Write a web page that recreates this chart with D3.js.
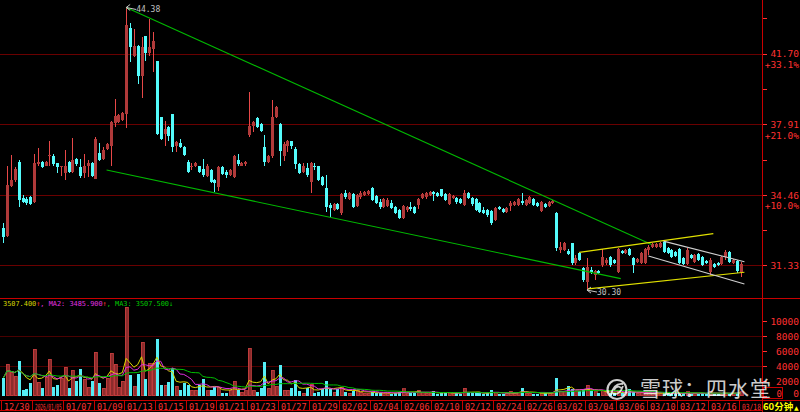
<!DOCTYPE html>
<html><head><meta charset="utf-8">
<script src="https://cdn.jsdelivr.net/npm/d3@7"></script>
<style>body{margin:0;background:#000;overflow:hidden}svg{display:block}</style>
</head><body><svg id="c" width="800" height="412"></svg>
<script>
// ---------- DATA (60-minute bars) ----------
const opens = [32.95,32.59,34.89,35.17,36.04,34.32,34.28,34.37,34.14,35.90,36.04,35.85,36.29,36.29,35.99,35.76,35.51,36.04,35.56,36.19,35.76,35.51,35.81,35.99,35.22,36.44,36.19,36.64,36.79,37.96,38.01,38.12,38.43,43.14,41.59,42.15,40.47,42.68,41.76,41.98,41.31,38.27,37.40,37.75,38.43,36.79,36.94,36.74,36.04,35.76,35.81,35.81,35.66,35.36,35.61,35.17,34.84,35.76,35.56,35.41,35.31,36.14,35.85,35.90,37.35,37.81,38.22,37.91,36.74,36.04,36.29,38.27,37.91,36.29,36.79,37.04,36.64,35.90,35.56,35.71,35.08,35.85,35.81,35.31,34.79,34.00,33.77,34.05,33.63,34.56,34.28,34.51,33.95,34.37,34.46,34.51,34.79,34.41,34.14,33.91,33.95,34.09,33.91,33.77,33.40,33.77,33.91,33.91,34.00,34.32,34.37,34.46,34.60,34.56,34.75,34.51,34.05,34.32,34.32,34.28,34.00,34.56,34.32,34.28,34.09,33.77,33.77,33.72,33.31,33.91,33.82,33.68,33.95,34.00,34.00,34.19,34.00,34.09,34.28,34.09,33.72,34.05,33.95,34.09,33.63,31.98,31.98,31.94,32.28,31.41,31.85,31.20,30.62,31.12,30.91,31.08,31.33,31.41,31.67,31.54,31.04,31.94,31.85,32.02,31.63,31.46,31.41,31.41,31.98,32.10,32.12,32.10,32.32,32.06,31.98,31.89,32.02,31.63,31.37,31.76,31.46,31.81,31.67,31.50,31.04,31.37,31.41,31.37,31.67,31.89,31.41,31.50,31.04];
const highs = [33.17,35.85,36.34,35.76,36.14,34.46,34.37,34.41,36.39,36.69,36.09,36.09,37.04,36.39,35.99,35.81,36.59,36.09,37.19,36.24,36.19,36.39,36.14,36.04,37.24,36.94,36.74,36.94,38.07,39.22,38.43,38.53,44.38,43.44,43.08,42.21,42.62,42.68,43.68,42.91,41.31,38.27,38.07,37.81,38.43,37.04,37.14,36.79,36.14,35.95,36.04,35.85,36.19,35.90,35.66,35.22,35.81,35.81,35.61,35.66,36.34,36.39,36.04,36.09,39.60,38.07,38.27,37.96,37.35,36.34,39.17,38.85,37.96,36.99,37.09,37.04,36.74,35.99,35.99,35.95,36.04,35.95,35.85,35.36,35.41,34.09,34.09,34.09,34.56,34.70,34.60,34.56,34.51,34.65,34.65,34.70,34.84,34.46,34.28,34.32,34.32,34.23,33.95,33.82,34.00,33.95,34.14,33.95,34.32,34.56,34.60,34.65,34.65,34.60,34.75,34.56,34.56,34.46,34.37,34.32,34.70,34.60,34.37,34.32,34.14,33.91,33.82,33.77,33.91,33.95,33.86,33.91,34.19,34.19,34.32,34.56,34.28,34.41,34.32,34.14,34.19,34.09,34.19,34.23,33.68,32.32,32.32,32.02,32.28,31.76,31.89,31.25,31.63,31.25,31.12,31.12,32.02,31.63,31.72,31.58,32.06,31.98,32.02,32.06,31.67,31.63,31.89,32.06,32.19,32.28,32.30,32.32,32.37,32.10,32.02,31.94,32.06,31.67,32.06,31.81,31.81,31.85,31.72,31.54,31.63,31.41,31.46,31.72,31.98,31.94,31.58,31.54,31.46];
const lows = [32.28,32.55,34.84,35.08,33.91,34.09,34.00,34.00,34.09,35.85,35.71,35.81,35.85,35.81,35.51,35.36,35.17,35.51,35.51,35.85,35.27,35.27,35.31,35.31,35.22,36.09,36.14,36.59,35.81,37.75,37.96,38.07,37.70,41.25,41.53,40.03,39.27,41.31,41.59,40.69,37.35,37.09,36.79,37.04,36.49,36.49,36.69,36.29,35.51,35.61,35.76,35.51,35.31,35.31,35.03,34.60,34.65,35.41,35.27,35.36,35.27,35.85,35.81,35.85,37.24,37.50,37.70,37.50,35.81,35.99,36.24,38.22,35.81,36.09,36.49,36.64,35.66,35.46,35.51,35.31,34.56,35.61,35.13,34.89,33.68,33.45,33.72,33.77,33.54,34.28,34.23,33.86,33.91,34.28,34.41,34.46,34.19,34.05,33.82,33.86,33.91,33.82,33.59,33.36,33.36,33.68,33.72,33.59,33.82,34.28,34.28,34.41,34.19,34.37,34.37,34.19,34.00,34.28,34.05,34.05,33.95,34.28,33.95,33.72,33.63,33.59,33.45,33.08,33.26,33.77,33.63,33.63,33.72,33.95,33.95,34.00,33.95,34.05,33.95,33.91,33.68,33.86,33.91,34.05,31.94,31.85,31.94,31.76,31.33,31.33,31.50,30.62,30.30,30.95,30.70,30.98,31.25,31.33,31.25,31.37,31.00,31.81,31.81,31.72,31.00,31.41,31.37,31.37,31.76,32.06,32.06,32.06,31.85,31.81,31.63,31.67,31.37,31.33,31.33,31.58,31.41,31.50,31.29,31.37,30.91,31.20,31.29,31.33,31.54,31.41,31.37,31.00,30.83];
const closes = [32.55,34.94,35.17,35.66,34.23,34.14,34.09,34.05,35.95,36.04,35.76,36.04,36.34,35.90,35.76,35.81,35.85,35.56,36.14,35.90,35.36,35.81,35.99,35.36,37.14,36.14,36.59,36.89,38.01,38.33,38.38,38.48,43.32,42.10,42.15,40.47,42.10,41.76,42.10,42.44,37.40,37.14,37.65,37.29,36.74,36.99,36.74,36.34,35.56,35.85,35.99,35.56,35.41,35.85,35.08,35.03,35.76,35.46,35.41,35.61,36.29,35.90,35.99,36.04,37.81,38.01,37.75,37.55,36.04,36.29,38.27,38.80,36.54,36.89,37.04,36.79,35.90,35.51,35.81,35.41,35.99,35.81,35.17,34.94,33.91,33.86,34.05,33.82,34.51,34.37,34.56,33.91,34.46,34.56,34.60,34.65,34.23,34.09,33.91,34.28,34.23,33.86,33.63,33.40,33.95,33.91,33.82,33.63,34.28,34.51,34.56,34.60,34.51,34.41,34.41,34.23,34.51,34.41,34.14,34.09,34.56,34.32,34.05,33.77,33.68,33.63,33.54,33.17,33.86,33.82,33.68,33.86,34.09,34.14,34.28,34.09,34.23,34.37,34.00,33.95,34.14,33.91,34.14,34.19,32.06,32.10,32.28,31.81,31.41,31.63,31.54,30.70,31.25,31.04,31.08,31.00,31.67,31.54,31.33,31.41,32.02,31.85,31.98,31.76,31.33,31.58,31.85,32.02,32.10,32.23,32.25,32.28,31.89,31.85,31.67,31.72,31.41,31.37,31.98,31.63,31.76,31.54,31.33,31.41,31.54,31.25,31.33,31.67,31.89,31.46,31.54,31.08,31.37];
const volumes = [2360,4226,3160,2626,4626,760,893,1693,6225,1826,1026,2493,4892,1160,1426,2360,3826,1026,3426,1960,3560,2226,1160,1960,5825,1693,1026,2360,5692,4226,1160,1960,11824,2760,1293,2893,7158,2226,4359,4359,7558,1426,1426,1826,3693,1293,760,1693,1426,760,760,1426,2226,627,760,1160,1160,360,360,760,1960,760,493,627,6359,760,493,1026,4492,1026,3426,1293,4092,760,760,1026,2093,627,360,1026,1560,360,493,893,1960,893,493,893,1160,493,360,627,760,493,360,300,450,380,420,350,300,280,400,520,900,350,300,420,760,380,330,300,620,280,350,400,450,260,300,280,1000,420,350,380,300,260,330,760,450,250,220,300,620,330,450,1000,350,300,280,250,480,300,350,330,2400,520,620,1250,900,500,620,800,1400,620,520,400,700,450,400,350,650,300,280,900,500,350,450,400,380,300,350,280,450,300,280,260,400,300,500,260,330,280,350,220,600,280,250,300,350,380,250,420,500];
const dateLabels = ["12/30","2026/01/05","01/07","01/09","01/13","01/15","01/19","01/21","01/23","01/27","01/29","02/02","02/04","02/06","02/10","02/12","02/24","02/26","03/02","03/04","03/06","03/10","03/12","03/16","03/18"];
const barsPerLabel = 8;
const basePrice = 31.33;
const priceTicks = [31.33, 34.46, 37.91, 41.70];
const priceMinorTicks = [32.86, 36.14, 39.76, 43.74];
const volTicks = [0, 2000, 4000, 6000, 8000, 10000];
const volGrid = [4000, 8000];
const maPeriods = [5, 10, 20];
// trend lines: [barIndex, price]
const trendGreenUpper = [[32, 44.38], [168.8, 32.22]];
const trendGreenLower = [[26.9, 35.63], [160.8, 30.77]];
const trendYellowUpper = [[150.0, 31.88], [184.9, 32.70]];
const trendYellowLower = [[152.3, 30.35], [193.0, 31.04]];
const trendWhiteUpper = [[171.9, 32.37], [193.0, 31.48]];
const trendWhiteLower = [[168.0, 31.73], [193.0, 30.55]];
const legendParts = [["3507.400","#d8d800"],["↑","#ff3030"],[", MA2: 3485.900","#e030e0"],["↑","#ff3030"],[", MA3: 3507.500","#00c800"],["↓","#00c800"]];
const watermark = "雪球：四水堂";
const periodLabel = "60分钟";

// ---------- SCALES ----------
const N = closes.length;
const step = 3.84, xStart = 1.38;
const x = d3.scaleBand().domain(d3.range(N)).range([xStart, xStart + step * N]);
const cx = i => x(i) + x.bandwidth() / 2;
const xi = d3.scaleLinear().domain([0, 1]).range([cx(0), cx(1)]);
const y = d3.scaleLog().domain([basePrice, 41.70]).range([265.3, 53.6]);
const yv = d3.scaleLinear().domain([0, 10000]).range([395.7, 320.7]);
const AX = 762;

const svg = d3.select("#c");
svg.append("rect").attr("width", 800).attr("height", 412).attr("fill", "#000");
const defs = svg.append("defs");
defs.append("clipPath").attr("id", "plot").append("rect").attr("x", 0).attr("y", 0).attr("width", AX).attr("height", 412);

const mono = "'DejaVu Sans Mono', 'Liberation Mono', monospace";
const RED = "#ff3030", DIM = "#6a0000", BR = "#c80000";

// grid lines
svg.append("g").selectAll("line").data(priceTicks).join("line")
  .attr("x1", 0).attr("x2", AX).attr("y1", d => Math.round(y(d)) + 0.5).attr("y2", d => Math.round(y(d)) + 0.5)
  .attr("stroke", DIM).attr("stroke-width", 1);
svg.append("g").selectAll("line").data(volGrid).join("line")
  .attr("x1", 0).attr("x2", AX).attr("y1", d => Math.round(yv(d)) + 0.5).attr("y2", d => Math.round(yv(d)) + 0.5)
  .attr("stroke", "#4a0000").attr("stroke-width", 1);

// ---------- CANDLES ----------
const plot = svg.append("g").attr("clip-path", "url(#plot)");
const bars = d3.range(N).map(i => ({i, o: opens[i], h: highs[i], l: lows[i], c: closes[i], v: volumes[i]}));
const up = d => d.c >= d.o;
const cg = plot.append("g").attr("shape-rendering", "crispEdges");
cg.selectAll("line.w").data(bars).join("line").attr("class", "w")
  .attr("x1", d => Math.round(cx(d.i)) + 0.5).attr("x2", d => Math.round(cx(d.i)) + 0.5)
  .attr("y1", d => y(d.h)).attr("y2", d => y(d.l))
  .attr("stroke", d => up(d) ? "#e84848" : "#54fcfc").attr("stroke-width", 1);
cg.selectAll("rect.b").data(bars).join("rect").attr("class", "b")
  .attr("x", d => Math.round(cx(d.i)) - 1)
  .attr("width", 3)
  .attr("y", d => y(Math.max(d.o, d.c)))
  .attr("height", d => Math.max(1, Math.abs(y(d.o) - y(d.c))))
  .attr("fill", d => up(d) ? "#b03a3a" : "#54fcfc");

// trend lines
const line = d3.line().x(d => xi(d[0])).y(d => y(d[1]));
const trends = [[trendGreenUpper, "#00b800"], [trendGreenLower, "#00b800"], [trendYellowUpper, "#e0e000"],
  [trendYellowLower, "#e0e000"], [trendWhiteUpper, "#d0d0d0"], [trendWhiteLower, "#d0d0d0"]];
plot.append("g").selectAll("path").data(trends).join("path")
  .attr("d", d => line(d[0])).attr("fill", "none").attr("stroke", d => d[1]).attr("stroke-width", 1.1);

// high / low annotations
const hiI = d3.maxIndex(highs), loI = d3.minIndex(lows);
[[hiI, highs[hiI]], [loI, lows[loI]]].forEach(([i, p]) => {
  const px = cx(i), py = y(p);
  plot.append("path").attr("d", `M${px + 4},${py - 3}L${px},${py}L${px + 4},${py + 3}M${px},${py}L${px + 10},${py + 2}`)
    .attr("stroke", "#c8c8c8").attr("fill", "none").attr("stroke-width", 1);
  plot.append("text").attr("x", px + 10).attr("y", py + 5).attr("fill", "#c0c0c0")
    .attr("font-family", mono).attr("font-size", 8).text(d3.format(".2f")(p));
});

// ---------- VOLUME ----------
const vg = plot.append("g").attr("shape-rendering", "crispEdges");
vg.selectAll("rect").data(bars).join("rect")
  .attr("x", d => Math.round(cx(d.i)) - 1).attr("width", 3)
  .attr("y", d => yv(d.v)).attr("height", d => yv(0) - yv(d.v))
  .attr("fill", d => up(d) ? "#8c2c2c" : "#55eef6")
  .attr("stroke", d => up(d) ? "#cc4040" : "none").attr("stroke-width", 0.8);
const maColors = ["#d8d800", "#e030e0", "#00c000"];
maPeriods.forEach((n, k) => {
  const ma = volumes.map((v, i) => d3.mean(volumes.slice(Math.max(0, i - n + 1), i + 1)));
  plot.append("path").datum(ma)
    .attr("d", d3.line().x((d, i) => cx(i)).y(d => yv(d)))
    .attr("fill", "none").attr("stroke", maColors[k]).attr("stroke-width", 1);
});

// legend (single text element with coloured spans, natural width)
const legendText = svg.append("text").attr("x", 3).attr("y", 306).attr("font-family", mono).attr("font-size", 6.9);
legendParts.forEach(([t, col]) => legendText.append("tspan").attr("fill", col).text(t));

// ---------- FRAME ----------
const frame = svg.append("g").attr("shape-rendering", "crispEdges");
frame.append("line").attr("x1", 0).attr("x2", 800).attr("y1", 298.5).attr("y2", 298.5).attr("stroke", BR);
frame.append("line").attr("x1", 0).attr("x2", 800).attr("y1", 400.5).attr("y2", 400.5).attr("stroke", BR);
frame.append("line").attr("x1", 0).attr("x2", AX).attr("y1", 410.5).attr("y2", 410.5).attr("stroke", BR);
frame.append("line").attr("x1", AX + 0.5).attr("x2", AX + 0.5).attr("y1", 0).attr("y2", 412).attr("stroke", BR);

// price axis
const pAxis = d3.axisRight(y).tickValues(priceTicks.concat(priceMinorTicks)).tickSize(4)
  .tickFormat(d => priceTicks.includes(d) ? d3.format(".2f")(d) : "");
const pa = svg.append("g").attr("transform", `translate(${AX + 1},0)`).call(pAxis);
pa.select(".domain").remove();
pa.selectAll(".tick line").attr("stroke", RED).attr("shape-rendering", "crispEdges");
pa.selectAll(".tick text").attr("x", 36).attr("text-anchor", "end").attr("fill", RED)
  .attr("font-family", mono).attr("font-size", 9.5).attr("dy", "0.35em");
svg.append("g").selectAll("text").data(priceTicks.filter(d => d !== basePrice)).join("text")
  .attr("x", 799).attr("y", d => y(d) + 14.5).attr("text-anchor", "end").attr("fill", RED)
  .attr("font-family", mono).attr("font-size", 9.5)
  .text(d => "+" + d3.format(".1f")((d / basePrice - 1) * 100) + "%");

// volume axis
const vAxis = d3.axisRight(yv).tickValues(volTicks).tickSize(4).tickFormat(d3.format("d"));
const va = svg.append("g").attr("transform", `translate(${AX + 1},0)`).call(vAxis);
va.select(".domain").remove();
va.selectAll(".tick line").attr("stroke", RED).attr("shape-rendering", "crispEdges");
va.selectAll(".tick text").attr("x", 36).attr("text-anchor", "end").attr("fill", RED)
  .attr("font-family", mono).attr("font-size", 9.5).attr("dy", d => d === 0 ? "0.1em" : "0.35em");
frame.append("rect").attr("x", 763.5).attr("y", 387.5).attr("width", 19).attr("height", 11)
  .attr("fill", "none").attr("stroke", BR);
svg.append("text").attr("x", 782).attr("y", 396.5).attr("text-anchor", "end").attr("fill", RED)
  .attr("font-family", mono).attr("font-size", 9).text("0");

// date axis
const labelIdx = dateLabels.map((d, k) => k * barsPerLabel);
const dAxis = d3.axisBottom(x).tickValues(labelIdx).tickSize(10).tickFormat((d, k) => dateLabels[k]);
const da = svg.append("g").attr("transform", "translate(0,400.5)").call(dAxis);
da.select(".domain").remove();
da.selectAll(".tick").attr("transform", d => `translate(${Math.round(x(d))},0)`);
da.selectAll(".tick line").attr("stroke", BR).attr("x1", 0.5).attr("x2", 0.5).attr("shape-rendering", "crispEdges");
da.selectAll(".tick text").attr("x", 0).attr("y", 0).attr("dy", 0).attr("text-anchor", "start")
  .attr("fill", RED).attr("font-family", mono).attr("font-size", 8.5)
  .each(function(d) {
    // shrink labels horizontally that would overflow their cell / the plot edge
    const room = Math.min(x.step() * barsPerLabel, AX - Math.round(x(d))) - 4;
    const len = this.getComputedTextLength();
    const k = len > room ? room / len : 1;
    d3.select(this).attr("transform", `translate(3,9) scale(${k},1)`);
  });

svg.append("text").attr("x", 763).attr("y", 409.5).attr("fill", "#ffff00").attr("font-weight", "bold")
  .attr("font-family", "'Noto Sans CJK SC', 'DejaVu Sans', sans-serif").attr("font-size", 9.5).text(periodLabel);
svg.append("text").attr("x", 794).attr("y", 409.5).attr("fill", "#ffff00")
  .attr("font-family", "'DejaVu Sans', sans-serif").attr("font-size", 6).text("▲");

// watermark
const wm = svg.append("g").attr("opacity", 0.8);
wm.append("circle").attr("cx", 617).attr("cy", 389.5).attr("r", 9.5).attr("fill", "none").attr("stroke", "#fff").attr("stroke-width", 2.2);
wm.append("path").attr("d", "M611,395 C613,386 617,383 623,384 M612,393 C617,396 621,392 623,386 M614,390 C616,386 619,386 621,388")
  .attr("fill", "none").attr("stroke", "#fff").attr("stroke-width", 1.8);
wm.append("text").attr("x", 640).attr("y", 396).attr("fill", "#fff").attr("font-size", 21)
  .attr("letter-spacing", 1).attr("font-family", "'Noto Sans CJK SC', sans-serif").text(watermark);
</script>
</body></html>
